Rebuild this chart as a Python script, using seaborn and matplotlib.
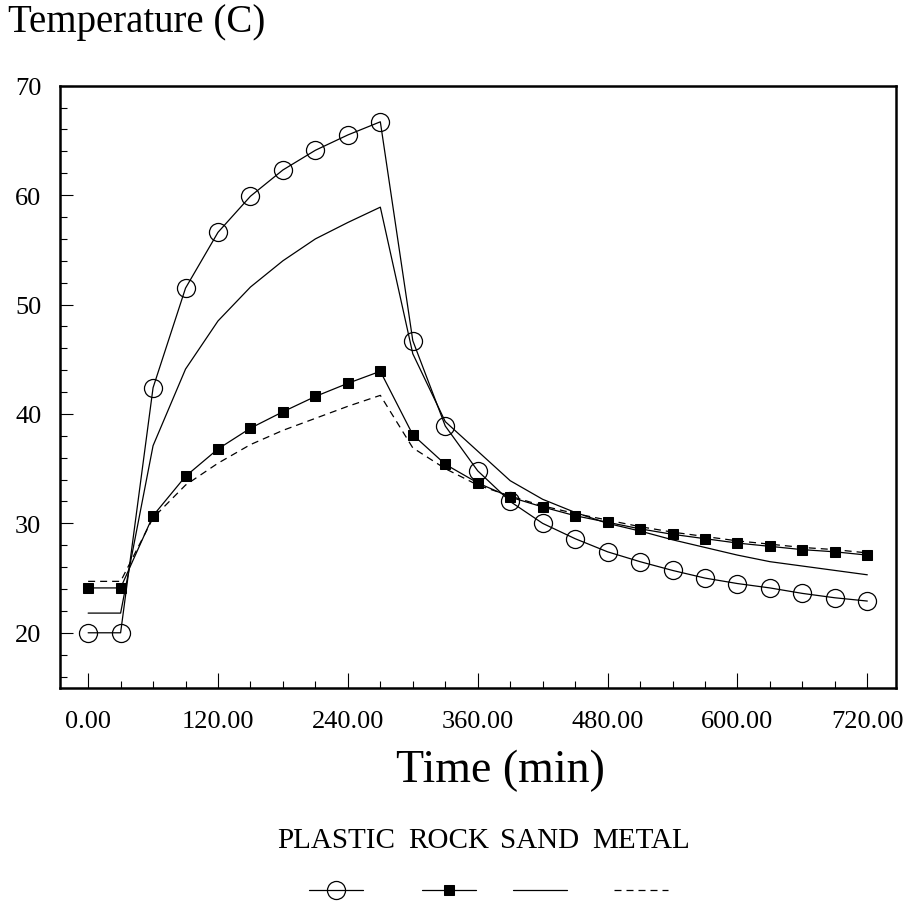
import matplotlib
matplotlib.use("Agg")
import matplotlib.pyplot as plt
from matplotlib.ticker import MultipleLocator, FormatStrFormatter
import seaborn as sns

# time axis (min), one reading every 30 minutes
TIME = [0, 30, 60, 90, 120, 150, 180, 210, 240, 270, 300, 330, 360,
        390, 420, 450, 480, 510, 540, 570, 600, 630, 660, 690, 720]

# temperatures (C)
PLASTIC = [20.0, 20.0, 42.4, 51.5, 56.6, 59.9, 62.3, 64.1, 65.5, 66.7, 46.7, 38.9, 34.8,
           32.0, 30.0, 28.6, 27.4, 26.5, 25.7, 25.0, 24.5, 24.1, 23.6, 23.2, 22.9]
ROCK = [24.1, 24.1, 30.7, 34.3, 36.8, 38.7, 40.2, 41.6, 42.8, 43.9, 38.1, 35.4, 33.7,
        32.4, 31.5, 30.7, 30.1, 29.5, 29.0, 28.6, 28.2, 27.9, 27.6, 27.4, 27.1]
SAND = [21.8, 21.8, 37.1, 44.1, 48.5, 51.6, 54.0, 56.0, 57.5, 58.9, 45.5, 39.3, 36.6,
        33.9, 32.2, 31.0, 30.0, 29.3, 28.5, 27.8, 27.1, 26.5, 26.1, 25.7, 25.3]
METAL = [24.7, 24.7, 30.5, 33.5, 35.5, 37.2, 38.5, 39.6, 40.7, 41.7, 36.9, 35.0, 33.5,
         32.5, 31.6, 30.9, 30.3, 29.7, 29.2, 28.8, 28.4, 28.1, 27.8, 27.6, 27.3]

SERIES = ["PLASTIC", "ROCK", "SAND", "METAL"]
VALUES = [PLASTIC, ROCK, SAND, METAL]

# how each series is drawn
STYLES = {
    "PLASTIC": dict(marker="o", markersize=13, markerfacecolor="none",
                    markeredgecolor="black", markeredgewidth=0.9, linestyle="-"),
    "ROCK": dict(marker="s", markersize=6.5, markerfacecolor="black",
                 markeredgecolor="black", linestyle="-"),
    "SAND": dict(marker="", linestyle="-"),
    "METAL": dict(marker="", linestyle=(0, (5.6, 4))),
}

# centres (px) of the legend labels and of the sample lines below them
LABEL_X = [336, 449, 540, 641]
W, H = 913, 903


def main():
    sns.set_style("ticks")
    plt.rcParams["font.family"] = ["Liberation Serif", "DejaVu Serif"]
    plt.rcParams["text.color"] = "black"
    plt.rcParams["xtick.color"] = "black"
    plt.rcParams["ytick.color"] = "black"

    fig = plt.figure(figsize=(W / 100, H / 100), dpi=100)
    ax = fig.add_axes([60 / W, 1 - 688.5 / H, 836 / W, 601.8 / H])

    lines = []
    for name, vals in zip(SERIES, VALUES):
        sns.lineplot(x=TIME, y=vals, ax=ax, color="black", linewidth=0.9,
                     **STYLES[name])
        lines.append(ax.lines[-1])

    ax.set_xlim(-26, 746.5)
    ax.set_ylim(15, 70)
    ax.xaxis.set_major_locator(MultipleLocator(120))
    ax.xaxis.set_minor_locator(MultipleLocator(30))
    ax.yaxis.set_major_locator(MultipleLocator(10))
    ax.yaxis.set_minor_locator(MultipleLocator(2))
    ax.xaxis.set_major_formatter(FormatStrFormatter("%.2f"))

    ax.tick_params(which="both", direction="in", color="black", width=0.8,
                   bottom=True, left=True, top=False, right=False,
                   labelsize=19, labelcolor="black")
    ax.tick_params(axis="x", which="major", length=11, pad=16)
    ax.tick_params(axis="x", which="minor", length=5)
    ax.tick_params(axis="y", which="major", length=9, pad=13.5)
    ax.tick_params(axis="y", which="minor", length=5)
    for sp in ax.spines.values():
        sp.set_visible(True)
        sp.set_linewidth(1.8)
        sp.set_color("black")
    ax.set_xlabel("")
    ax.set_ylabel("")

    fig.text(8 / W, 1 - 32 / H, "Temperature (C)", fontsize=28, va="baseline")
    fig.text(500 / W, 1 - 771 / H, "Time (min)", fontsize=33,
             ha="center", va="center")

    # legend: name on top, line sample below
    for name, line, cx in zip(SERIES, lines, LABEL_X):
        fig.text(cx / W, 1 - 841 / H, name, fontsize=21, ha="center", va="center")
        fig.legend([line], [""], loc="center", bbox_to_anchor=(cx / W, 1 - 894 / H),
                   frameon=False, fontsize=20, handlelength=1.95,
                   handletextpad=0, borderpad=0, numpoints=1)

    fig.savefig("out.png", dpi=100)


if __name__ == "__main__":
    main()
